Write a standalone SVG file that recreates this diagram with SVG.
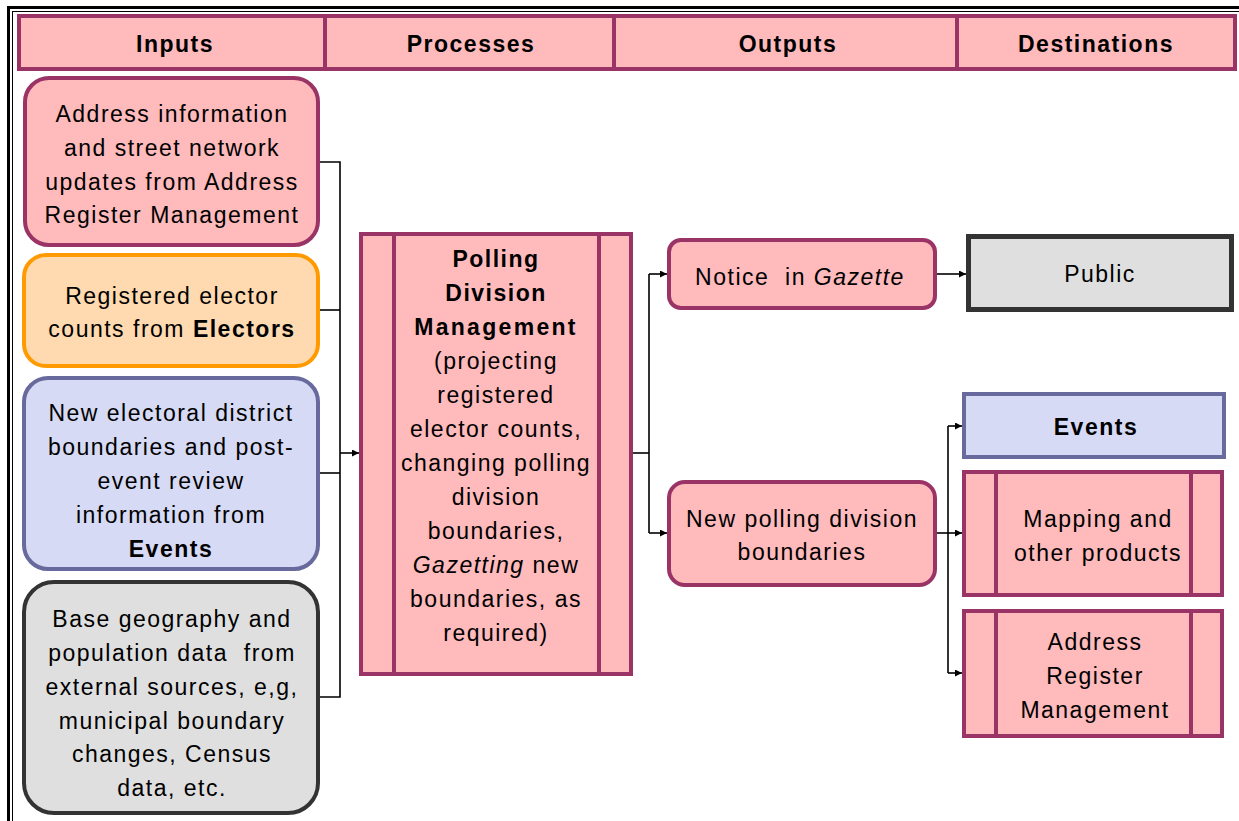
<svg xmlns="http://www.w3.org/2000/svg" width="1239" height="821" viewBox="0 0 1239 821">
  <style>
    text { font-family: "Liberation Sans", Arial, sans-serif; font-size: 23px; letter-spacing: 1.5px; fill: #000; text-anchor: middle; }
    .b { font-weight: bold; }
    .pink { fill: #FFBABC; stroke: #9B3466; stroke-width: 4; }
    .orange { fill: #FFD9AF; stroke: #FF9A00; stroke-width: 4; }
    .blue { fill: #D6DAF4; stroke: #68699C; stroke-width: 4; }
    .grey { fill: #DFDFDF; stroke: #333333; stroke-width: 4; }
    .div { stroke: #9B3466; stroke-width: 4; }
    .conn { fill: none; stroke: #000; stroke-width: 1.6; }
  </style>
  <defs>
    <marker id="arrow" viewBox="0 0 10 10" refX="10" refY="5" markerWidth="9" markerHeight="7" markerUnits="userSpaceOnUse" orient="auto">
      <path d="M0,0 L10,5 L0,10 Z" fill="#000"/>
    </marker>
  </defs>

  <rect width="1239" height="821" fill="#fff"/>

  <!-- frame -->
  <rect x="8.5" y="7.5" width="1240" height="830" fill="none" stroke="#000" stroke-width="3"/>
  <rect x="12.5" y="11.5" width="1240" height="830" fill="none" stroke="#000" stroke-width="1"/>

  <!-- column headers -->
  <g id="headers">
    <rect class="pink" x="19" y="16" width="1216" height="53"/>
    <line class="div" x1="325" y1="16" x2="325" y2="69"/>
    <line class="div" x1="614" y1="16" x2="614" y2="69"/>
    <line class="div" x1="957" y1="16" x2="957" y2="69"/>
    <text class="b" x="175" y="51.5">Inputs</text>
    <text class="b" x="471" y="51.5">Processes</text>
    <text class="b" x="788" y="51.5">Outputs</text>
    <text class="b" x="1096" y="51.5">Destinations</text>
  </g>

  <!-- inputs -->
  <g id="input-address">
    <rect class="pink" x="25" y="78" width="293" height="167" rx="24"/>
    <text x="172" y="122">Address information</text>
    <text x="172" y="156">and street network</text>
    <text x="172" y="190">updates from Address</text>
    <text x="172" y="223">Register Management</text>
  </g>
  <g id="input-electors">
    <rect class="orange" x="24" y="255" width="294" height="111" rx="22"/>
    <text x="172" y="304">Registered elector</text>
    <text x="172" y="337">counts from <tspan class="b">Electors</tspan></text>
  </g>
  <g id="input-events">
    <rect class="blue" x="24" y="378" width="294" height="191" rx="24"/>
    <text x="171" y="421">New electoral district</text>
    <text x="171" y="455">boundaries and post-</text>
    <text x="171" y="489">event review</text>
    <text x="171" y="523">information from</text>
    <text class="b" x="171" y="557">Events</text>
  </g>
  <g id="input-external">
    <rect class="grey" x="24" y="582" width="294" height="231" rx="30"/>
    <text x="172" y="627">Base geography and</text>
    <text x="172" y="661" xml:space="preserve">population data  from</text>
    <text x="172" y="695">external sources, e,g,</text>
    <text x="172" y="729">municipal boundary</text>
    <text x="172" y="762">changes, Census</text>
    <text x="172" y="796">data, etc.</text>
  </g>

  <!-- process -->
  <g id="process-polling">
    <rect class="pink" x="361" y="234" width="270" height="440"/>
    <line class="div" x1="394" y1="234" x2="394" y2="674"/>
    <line class="div" x1="599" y1="234" x2="599" y2="674"/>
    <text class="b" x="496" y="267">Polling</text>
    <text class="b" x="496" y="301">Division</text>
    <text class="b" x="496" y="335" style="letter-spacing:2.3px">Management</text>
    <text x="496" y="369">(projecting</text>
    <text x="496" y="403">registered</text>
    <text x="496" y="437">elector counts,</text>
    <text x="496" y="471">changing polling</text>
    <text x="496" y="505">division</text>
    <text x="496" y="539">boundaries,</text>
    <text x="496" y="573"><tspan font-style="italic">Gazetting</tspan> new</text>
    <text x="496" y="607">boundaries, as</text>
    <text x="496" y="641">required)</text>
  </g>

  <!-- outputs -->
  <g id="output-notice">
    <rect class="pink" x="669" y="240" width="266" height="68" rx="12"/>
    <text x="800" y="285" xml:space="preserve">Notice  in <tspan font-style="italic">Gazette</tspan></text>
  </g>
  <g id="output-boundaries">
    <rect class="pink" x="669" y="482" width="266" height="103" rx="16"/>
    <text x="802" y="527">New polling division</text>
    <text x="802" y="560">boundaries</text>
  </g>

  <!-- destinations -->
  <g id="dest-public">
    <rect x="968.5" y="236.5" width="263" height="73" fill="#DFDFDF" stroke="#333333" stroke-width="5"/>
    <text x="1100" y="282">Public</text>
  </g>
  <g id="dest-events">
    <rect class="blue" x="964" y="394" width="260" height="63"/>
    <text class="b" x="1096" y="435">Events</text>
  </g>
  <g id="dest-mapping">
    <rect class="pink" x="964" y="472" width="258" height="123"/>
    <line class="div" x1="996" y1="472" x2="996" y2="595"/>
    <line class="div" x1="1191" y1="472" x2="1191" y2="595"/>
    <text x="1098" y="527">Mapping and</text>
    <text x="1098" y="561">other products</text>
  </g>
  <g id="dest-address-register">
    <rect class="pink" x="964" y="611" width="258" height="125"/>
    <line class="div" x1="996" y1="611" x2="996" y2="736"/>
    <line class="div" x1="1191" y1="611" x2="1191" y2="736"/>
    <text x="1095" y="650">Address</text>
    <text x="1095" y="684">Register</text>
    <text x="1095" y="718">Management</text>
  </g>

  <!-- connectors -->
  <g id="connectors">
    <polyline class="conn" points="320,162 340,162 340,697 320,697"/>
    <line class="conn" x1="320" y1="310" x2="340" y2="310"/>
    <line class="conn" x1="320" y1="473" x2="340" y2="473"/>
    <line class="conn" x1="340" y1="453" x2="359" y2="453" marker-end="url(#arrow)"/>

    <line class="conn" x1="633" y1="453" x2="649" y2="453"/>
    <line class="conn" x1="649" y1="274" x2="649" y2="533"/>
    <line class="conn" x1="649" y1="274" x2="667" y2="274" marker-end="url(#arrow)"/>
    <line class="conn" x1="649" y1="533" x2="667" y2="533" marker-end="url(#arrow)"/>

    <line class="conn" x1="937" y1="274" x2="966" y2="274" marker-end="url(#arrow)"/>

    <line class="conn" x1="937" y1="533" x2="962" y2="533" marker-end="url(#arrow)" stroke-width="2"/>
    <line class="conn" x1="948" y1="426" x2="948" y2="673"/>
    <line class="conn" x1="948" y1="426" x2="962" y2="426" marker-end="url(#arrow)"/>
    <line class="conn" x1="948" y1="673" x2="962" y2="673" marker-end="url(#arrow)"/>
  </g>
</svg>
